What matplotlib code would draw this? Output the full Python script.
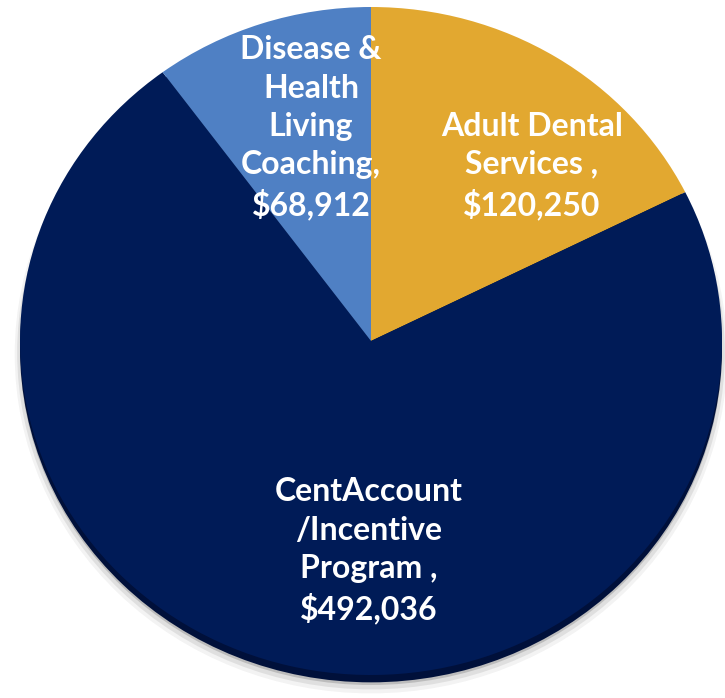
import matplotlib.pyplot as plt
from matplotlib.patches import Ellipse

# === DATA ===
categories = ["Adult Dental\nServices ,", "CentAccount\n/Incentive\nProgram ,",
              "Disease &\nHealth\nLiving\nCoaching,"]
values = [120250, 492036, 68912]
colors = ["#E2A830", "#001B57", "#4F80C4"]

# label centers in pixels (x, y from top) for each slice
label_px = [(532, 166), (369, 551), (311, 128)]

W, H = 725, 698
fig = plt.figure(figsize=(W / 100, H / 100), dpi=100)
fig.patch.set_facecolor("white")

# pie fills an ellipse from x 20..722 and y 7..675 (pixels from top)
left, right, top, bottom = 20, 722, 7, 675
ax = fig.add_axes([left / W, (H - bottom) / H, (right - left) / W, (bottom - top) / H])
ax.axis("off")

# soft drop shadow + bevel under the pie
for dy, s, a in [(-0.04, 1.015, 0.06), (-0.035, 1.008, 0.1), (-0.03, 1.0, 0.2)]:
    ax.add_patch(Ellipse((0, dy), 2 * s, 2 * s, color="#333333", alpha=a, lw=0,
                         zorder=0, clip_on=False))
ax.add_patch(Ellipse((0, -0.022), 2, 2, color="#00103a", lw=0, zorder=0.5, clip_on=False))

wedges, _ = ax.pie(values, colors=colors, startangle=90, counterclock=False,
                   radius=1, wedgeprops=dict(linewidth=0))
for w in wedges:
    w.set_zorder(1)
ax.set_xlim(-1, 1)
ax.set_ylim(-1, 1)
ax.set_aspect("auto")

for name, val, (px, py) in zip(categories, values, label_px):
    fig.text(px / W, 1 - py / H, f"{name}\n${val:,}", ha="center", va="center",
             color="white", fontsize=23, fontweight="bold", family="Lato",
             linespacing=1.38)

fig.savefig("out.png", dpi=100)
